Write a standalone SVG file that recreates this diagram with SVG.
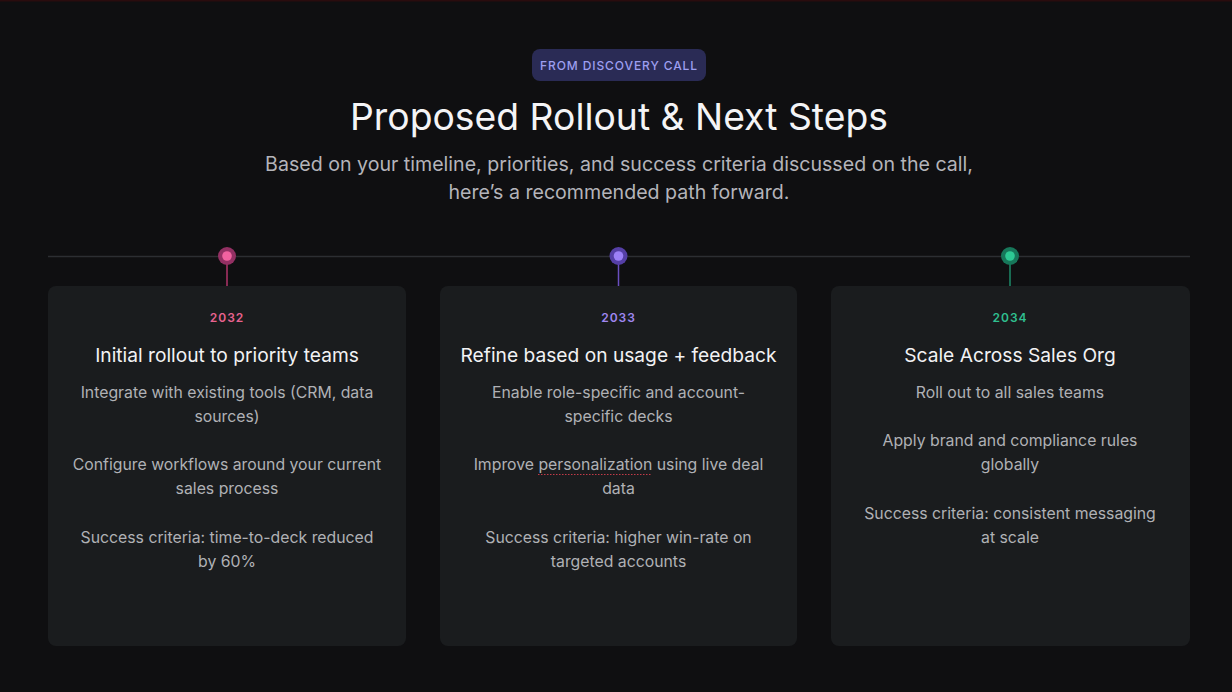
<svg xmlns="http://www.w3.org/2000/svg" width="1232" height="692" viewBox="0 0 1232 692">
<defs>
<style>
.bg{fill:#0f0f11}
.card{fill:#1a1c1e}
.t{font-family:Inter,"Noto Sans",sans-serif;text-anchor:middle}
.title{font-size:37.3px;fill:#f4f4f6;font-weight:400}
.sub{font-size:19.6px;fill:#b4b4ba}
.badge{font-size:12px;fill:#9d9ff0;letter-spacing:0.9px;font-weight:500}
.yr{font-size:12px;letter-spacing:1px;font-weight:600}
.h{font-size:19.2px;fill:#f2f2f4}
.b{font-size:15.8px;fill:#b0b1b5}
</style>
</defs>
<rect class="bg" width="1232" height="692"/>
<rect x="0" y="0" width="1232" height="1.5" fill="#2a0c0e"/>
<g id="header">
<rect x="532" y="49" width="174" height="32" rx="8" fill="#2a2b55"/>
<text class="t badge" x="619" y="69.5">FROM DISCOVERY CALL</text>
<text class="t title" x="619" y="130">Proposed Rollout &amp; Next Steps</text>
<text class="t sub" x="619" y="171">Based on your timeline, priorities, and success criteria discussed on the call,</text>
<text class="t sub" x="619" y="199">here’s a recommended path forward.</text>
</g>
<g id="connectors">
<line x1="48" y1="256.5" x2="1190" y2="256.5" stroke="#2c2e32" stroke-width="1.5"/>
<line x1="227" y1="262" x2="227" y2="286" stroke="#b0356a" stroke-width="1.5"/>
<line x1="618.5" y1="262" x2="618.5" y2="286" stroke="#6a4fc0" stroke-width="1.5"/>
<line x1="1010" y1="262" x2="1010" y2="286" stroke="#1e8a68" stroke-width="1.5"/>
</g>
<g id="node-2032">
<circle cx="227" cy="256" r="9" fill="#933063"/>
<circle cx="227" cy="256" r="4.8" fill="#f262a0"/>
<rect class="card" x="48" y="286" width="358" height="360" rx="8"/>
<text class="t yr" x="227" y="322" fill="#e8628f">2032</text>
<text class="t h" x="227" y="362">Initial rollout to priority teams</text>
<text class="t b" x="227" y="398">Integrate with existing tools (CRM, data</text>
<text class="t b" x="227" y="422">sources)</text>
<text class="t b" x="227" y="470">Configure workflows around your current</text>
<text class="t b" x="227" y="494">sales process</text>
<text class="t b" x="227" y="543">Success criteria: time-to-deck reduced</text>
<text class="t b" x="227" y="567">by 60%</text>
</g>
<g id="node-2033">
<circle cx="618.5" cy="256" r="9" fill="#553fa6"/>
<circle cx="618.5" cy="256" r="4.8" fill="#9c80f7"/>
<rect class="card" x="440" y="286" width="357" height="360" rx="8"/>
<text class="t yr" x="618.5" y="322" fill="#9f86f0">2033</text>
<text class="t h" x="618.5" y="362">Refine based on usage + feedback</text>
<text class="t b" x="618.5" y="398">Enable role-specific and account-</text>
<text class="t b" x="618.5" y="422">specific decks</text>
<text class="t b" x="618.5" y="470">Improve personalization using live deal</text>
<line x1="538" y1="474.5" x2="652" y2="474.5" stroke="#c23a48" stroke-width="1.2" stroke-dasharray="1.5 1.5"/>
<text class="t b" x="618.5" y="494">data</text>
<text class="t b" x="618.5" y="543">Success criteria: higher win-rate on</text>
<text class="t b" x="618.5" y="567">targeted accounts</text>
</g>
<g id="node-2034">
<circle cx="1010" cy="256" r="9" fill="#17775a"/>
<circle cx="1010" cy="256" r="4.8" fill="#2dca94"/>
<rect class="card" x="831" y="286" width="359" height="360" rx="8"/>
<text class="t yr" x="1010" y="322" fill="#2fbf8f">2034</text>
<text class="t h" x="1010" y="362">Scale Across Sales Org</text>
<text class="t b" x="1010" y="398">Roll out to all sales teams</text>
<text class="t b" x="1010" y="446">Apply brand and compliance rules</text>
<text class="t b" x="1010" y="470">globally</text>
<text class="t b" x="1010" y="519">Success criteria: consistent messaging</text>
<text class="t b" x="1010" y="543">at scale</text>
</g>
</svg>
